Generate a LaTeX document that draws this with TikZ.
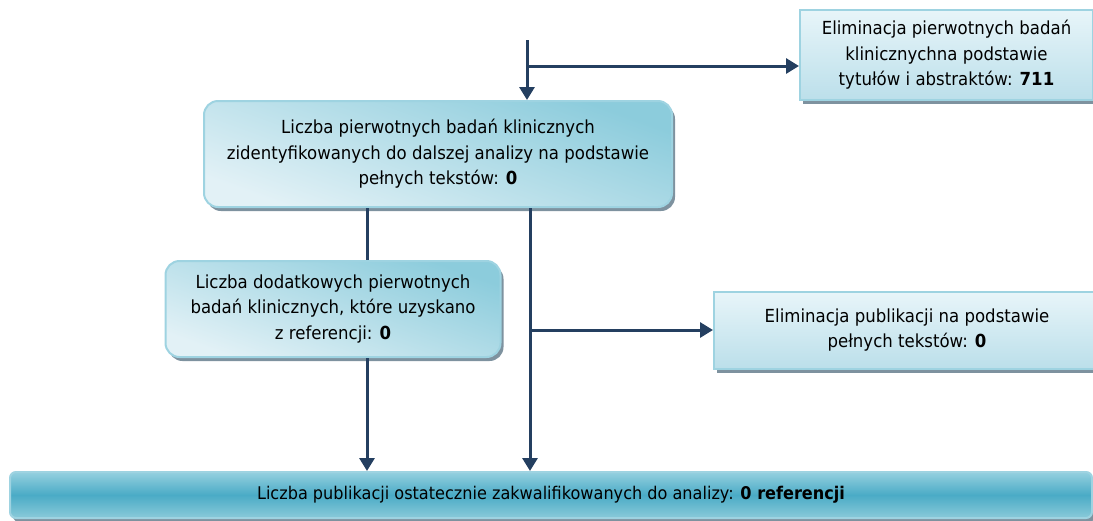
\documentclass[tikz,border=0pt]{standalone}
\usepackage{fontspec}
\setmainfont{DejaVu Sans}[FakeStretch=0.92]
\usetikzlibrary{arrows.meta,shadows,calc}

\definecolor{navy}{HTML}{243F60}
\definecolor{edge}{HTML}{9ED3E1}
\definecolor{shade}{HTML}{7E929F}
\definecolor{tealtop}{HTML}{8CCCDC}
\definecolor{tealbot}{HTML}{E2F1F6}
\definecolor{palet}{HTML}{E8F5F9}
\definecolor{paleb}{HTML}{BBDFEA}
\definecolor{bartop}{HTML}{95D0DF}
\definecolor{barmid}{HTML}{4AABC6}
\definecolor{barbot}{HTML}{8ACAD9}

\tikzset{
  basebox/.style={draw=edge, line width=2pt, align=center,
    font=\fontsize{18}{25.5}\selectfont, inner sep=0pt,
    drop shadow={shadow xshift=3pt, shadow yshift=-4pt, fill=shade, opacity=1}},
  roundbox/.style={basebox, rounded corners=14pt,
    top color=tealtop, bottom color=tealbot, shading angle=-20},
  sidebox/.style={basebox, top color=palet, bottom color=paleb},
  finalbox/.style={basebox, rounded corners=6pt,
    top color=bartop, bottom color=barbot, middle color=barmid,
    font=\fontsize{17.5}{20}\selectfont},
  link/.style={draw=navy, line width=3pt},
  arrowlink/.style={link, -{Triangle[length=13pt,width=15pt]}},
}

\begin{document}
\begin{tikzpicture}[x=1pt,y=-1pt]
\useasboundingbox (0,0) rectangle (1093,520);

% boxes
\node[sidebox, minimum width=293pt, minimum height=90pt] (elimA) at (946.5,55)
  {Eliminacja pierwotnych badań\\klinicznychna podstawie\\tytułów i abstraktów: \textbf{711}};
\node[roundbox, minimum width=468pt, minimum height=106pt] (main) at (438,154)
  {Liczba pierwotnych badań klinicznych\\zidentyfikowanych do dalszej analizy na podstawie\\pełnych tekstów: \textbf{0}};
\node[roundbox, minimum width=335pt, minimum height=96pt] (extra) at (333,309)
  {Liczba dodatkowych pierwotnych\\badań klinicznych, które uzyskano\\z referencji: \textbf{0}};
\node[sidebox, minimum width=386pt, minimum height=77pt] (elimB) at (907,330)
  {Eliminacja publikacji na podstawie\\pełnych tekstów: \textbf{0}};
\node[finalbox, minimum width=1082pt, minimum height=46pt] (final) at (551,495)
  {Liczba publikacji ostatecznie zakwalifikowanych do analizy: \textbf{0 referencji}};

% guide coordinates for the vertical runs
\coordinate (start) at (527,40);
\coordinate (forkA) at (527,66);
\coordinate (left) at (367,0);
\coordinate (right) at (530,0);

% connectors
\draw[arrowlink] (start) -- (start |- main.north);
\draw[arrowlink] (forkA) -- (forkA -| elimA.west);
\draw[link] (main.south -| left) -- (extra.north -| left);
\draw[arrowlink] (extra.south -| left) -- (final.north -| left);
\draw[arrowlink] (main.south -| right) -- (final.north -| right);
\draw[arrowlink] (right |- elimB.west) -- (elimB.west);
\end{tikzpicture}
\end{document}
